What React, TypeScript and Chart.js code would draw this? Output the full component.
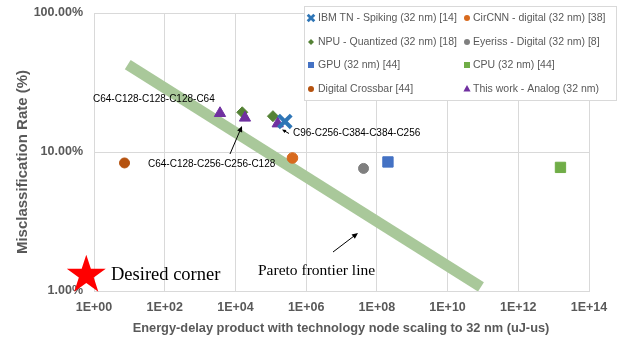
import React, { useEffect, useRef } from 'react';
import { Chart, registerables } from 'chart.js';

Chart.register(...registerables);

// ---- data ----
const xTickExponents = [0, 2, 4, 6, 8, 10, 12, 14];
const yTickValues = [1, 10, 100];

const ibmX = [2.5e5];
const ibmY = [16.6];
const circnnX = [4.1e5];
const circnnY = [9.06];
const npuX = [1.56e4, 1.15e5];
const npuY = [19.3, 18.1];
const eyerissX = [4.2e7];
const eyerissY = [7.62];
const gpuX = [2.06e8];
const gpuY = [8.48];
const cpuX = [1.56e13];
const cpuY = [7.75];
const crossbarX = [7.3];
const crossbarY = [8.34];
const thisWorkX = [3.66e3, 1.86e4, 1.57e5];
const thisWorkY = [19.0, 17.6, 16.0];
const paretoX = [9, 8.8e10];
const paretoY = [42.5, 1.07];
const desiredCornerX = 0.605;
const desiredCornerY = 1.3;

const legendLabels = [
  'IBM TN - Spiking (32 nm) [14]',
  'CirCNN - digital (32 nm) [38]',
  'NPU - Quantized (32 nm) [18]',
  'Eyeriss - Digital (32 nm) [8]',
  'GPU (32 nm) [44]',
  'CPU (32 nm) [44]',
  'Digital Crossbar [44]',
  'This work - Analog (32 nm)',
];

const C = {
  ibm: '#2E75B6',
  circnn: '#D86A1E',
  npu: '#548235',
  eyeriss: '#7F7F7F',
  gpu: '#4472C4',
  cpu: '#70AD47',
  crossbar: '#B5520F',
  thisWork: '#7030A0',
  pareto: '#A9C89A',
};

const zip = (xs: number[], ys: number[]) => xs.map((x, i) => ({ x, y: ys[i] }));

function drawMarker(ctx: CanvasRenderingContext2D, kind: string, color: string, x: number, y: number, r: number) {
  ctx.save();
  ctx.fillStyle = color;
  ctx.strokeStyle = color;
  ctx.beginPath();
  if (kind === 'circle') {
    ctx.arc(x, y, r, 0, Math.PI * 2);
    ctx.fill();
  } else if (kind === 'rect') {
    ctx.rect(x - r, y - r, 2 * r, 2 * r);
    ctx.fill();
  } else if (kind === 'diamond') {
    ctx.moveTo(x, y - r);
    ctx.lineTo(x + r, y);
    ctx.lineTo(x, y + r);
    ctx.lineTo(x - r, y);
    ctx.closePath();
    ctx.fill();
  } else if (kind === 'triangle') {
    ctx.moveTo(x, y - r);
    ctx.lineTo(x + r * 0.9, y + r * 0.6);
    ctx.lineTo(x - r * 0.9, y + r * 0.6);
    ctx.closePath();
    ctx.fill();
  } else if (kind === 'cross') {
    ctx.lineWidth = 2.8;
    ctx.moveTo(x - r, y - r);
    ctx.lineTo(x + r, y + r);
    ctx.moveTo(x + r, y - r);
    ctx.lineTo(x - r, y + r);
    ctx.stroke();
  }
  ctx.restore();
}

function drawArrow(ctx: CanvasRenderingContext2D, x1: number, y1: number, x2: number, y2: number, head = 6) {
  const ang = Math.atan2(y2 - y1, x2 - x1);
  ctx.save();
  ctx.strokeStyle = '#000';
  ctx.fillStyle = '#000';
  ctx.lineWidth = 1;
  ctx.beginPath();
  ctx.moveTo(x1, y1);
  ctx.lineTo(x2 - Math.cos(ang) * head * 0.8, y2 - Math.sin(ang) * head * 0.8);
  ctx.stroke();
  ctx.beginPath();
  ctx.moveTo(x2, y2);
  ctx.lineTo(x2 - head * Math.cos(ang) + (head / 2.2) * Math.sin(ang), y2 - head * Math.sin(ang) - (head / 2.2) * Math.cos(ang));
  ctx.lineTo(x2 - head * Math.cos(ang) - (head / 2.2) * Math.sin(ang), y2 - head * Math.sin(ang) + (head / 2.2) * Math.cos(ang));
  ctx.closePath();
  ctx.fill();
  ctx.restore();
}

const overlayPlugin = {
  id: 'overlay',
  afterDatasetsDraw(chart: any) {
    const ctx: CanvasRenderingContext2D = chart.ctx;
    const xs = chart.scales.x;
    const ys = chart.scales.y;
    ctx.save();
    // code labels
    ctx.fillStyle = '#000';
    ctx.font = '10px "Liberation Sans", Arial, sans-serif';
    ctx.textBaseline = 'middle';
    ctx.textAlign = 'left';
    ctx.fillText('C64-C128-C128-C128-C64', 93, 99);
    ctx.fillText('C64-C128-C256-C256-C128', 148, 164);
    ctx.fillText('C96-C256-C384-C384-C256', 293, 133);
    drawArrow(ctx, 230, 154, 242, 126, 6);
    drawArrow(ctx, 289, 133.5, 282, 129.5, 4);
    drawArrow(ctx, 333, 252, 358, 233, 6);
    // serif annotations
    ctx.textBaseline = 'alphabetic';
    ctx.font = '18.5px "Liberation Serif", "Times New Roman", serif';
    ctx.fillText('Desired corner', 111, 280);
    ctx.font = '15.5px "Liberation Serif", "Times New Roman", serif';
    ctx.fillText('Pareto frontier line', 258, 275);
    // star
    const sx = xs.getPixelForValue(desiredCornerX);
    const sy = ys.getPixelForValue(desiredCornerY);
    const R = 20.5;
    const r = R * 0.382;
    ctx.fillStyle = '#FF0000';
    ctx.beginPath();
    for (let i = 0; i < 10; i++) {
      const rad = (i % 2 === 0 ? R : r);
      const a = -Math.PI / 2 + (i * Math.PI) / 5;
      const px = sx + rad * Math.cos(a);
      const py = sy + rad * Math.sin(a);
      if (i === 0) ctx.moveTo(px, py); else ctx.lineTo(px, py);
    }
    ctx.closePath();
    ctx.fill();
    ctx.restore();
  },
  afterDraw(chart: any) {
    const ctx: CanvasRenderingContext2D = chart.ctx;
    const area = chart.chartArea;
    ctx.save();
    // axis titles
    ctx.fillStyle = '#595959';
    ctx.textAlign = 'center';
    ctx.textBaseline = 'middle';
    ctx.font = 'bold 12.8px "Liberation Sans", Arial, sans-serif';
    ctx.fillText('Energy-delay product with technology node scaling to 32 nm (uJ-us)', (area.left + area.right) / 2 - 0.5, 328);
    ctx.save();
    ctx.translate(23, 162);
    ctx.rotate(-Math.PI / 2);
    ctx.font = 'bold 15px "Liberation Sans", Arial, sans-serif';
    ctx.fillText('Misclassification Rate (%)', 0, 0);
    ctx.restore();
    // legend
    ctx.fillStyle = '#FFFFFF';
    ctx.strokeStyle = '#D9D9D9';
    ctx.lineWidth = 1;
    ctx.fillRect(304.5, 6.5, 312, 94);
    ctx.strokeRect(304.5, 6.5, 312, 94);
    const kinds = [
      ['cross', C.ibm], ['circle', C.circnn],
      ['diamond', C.npu], ['circle', C.eyeriss],
      ['rect', C.gpu], ['rect', C.cpu],
      ['circle', C.crossbar], ['triangle', C.thisWork],
    ];
    const rowY = [18, 42, 65, 89];
    const markerX = [311, 467];
    const textX = [318, 473];
    ctx.font = '10.5px "Liberation Sans", Arial, sans-serif';
    ctx.textAlign = 'left';
    ctx.textBaseline = 'middle';
    legendLabels.forEach((label, i) => {
      const col = i % 2;
      const row = Math.floor(i / 2);
      const [kind, color] = kinds[i];
      const size = kind === 'cross' ? 3.3 : kind === 'rect' ? 3 : kind === 'triangle' ? 4 : 3;
      drawMarker(ctx, kind, color, markerX[col], rowY[row], size);
      ctx.fillStyle = '#595959';
      ctx.fillText(label, textX[col], rowY[row] + 0.5);
    });
    ctx.restore();
  },
};

export default function App() {
  const ref = useRef<HTMLCanvasElement | null>(null);
  useEffect(() => {
    if (!ref.current) return;
    const tickFont = { family: '"Liberation Sans", Arial, sans-serif', size: 12.5, weight: 'bold' as const };
    const chart = new Chart(ref.current, {
      type: 'scatter',
      data: {
        datasets: [
          { label: legendLabels[0], data: zip(ibmX, ibmY), pointStyle: 'crossRot', pointRadius: 9, borderColor: C.ibm, backgroundColor: C.ibm, pointBorderWidth: 4, order: 1 },
          { label: legendLabels[1], data: zip(circnnX, circnnY), pointStyle: 'circle', pointRadius: 5.3, backgroundColor: C.circnn, borderColor: C.circnn, order: 1 },
          { label: legendLabels[2], data: zip(npuX, npuY), pointStyle: 'rectRot', pointRadius: 5.5, backgroundColor: C.npu, borderColor: C.npu, order: 2 },
          { label: legendLabels[3], data: zip(eyerissX, eyerissY), pointStyle: 'circle', pointRadius: 5, backgroundColor: C.eyeriss, borderColor: C.eyeriss, order: 1 },
          { label: legendLabels[4], data: zip(gpuX, gpuY), pointStyle: 'rect', pointRadius: 7.3, backgroundColor: C.gpu, borderColor: C.gpu, order: 1 },
          { label: legendLabels[5], data: zip(cpuX, cpuY), pointStyle: 'rect', pointRadius: 7.3, backgroundColor: C.cpu, borderColor: C.cpu, order: 1 },
          { label: legendLabels[6], data: zip(crossbarX, crossbarY), pointStyle: 'circle', pointRadius: 5, backgroundColor: C.crossbar, borderColor: C.crossbar, order: 1 },
          { label: legendLabels[7], data: zip(thisWorkX, thisWorkY), pointStyle: 'triangle', pointRadius: 6.5, backgroundColor: C.thisWork, borderColor: C.thisWork, order: 1 },
          { label: 'Pareto frontier line', data: zip(paretoX, paretoY), showLine: true, pointRadius: 0, borderColor: C.pareto, backgroundColor: C.pareto, borderWidth: 11, borderCapStyle: 'butt', order: 10 } as any,
        ],
      },
      options: {
        responsive: false,
        animation: false,
        devicePixelRatio: 1,
        layout: { padding: { left: 0, right: 34, top: 11, bottom: 0 } },
        plugins: { legend: { display: false }, tooltip: { enabled: false } },
        scales: {
          x: {
            type: 'logarithmic',
            min: 1,
            max: 1e14,
            afterFit: (s: any) => { s.height = 59; s.paddingLeft = 0; s.paddingRight = 0; },
            afterBuildTicks: (s: any) => { s.ticks = xTickExponents.map((e) => ({ value: Math.pow(10, e) })); },
            ticks: {
              autoSkip: false,
              maxRotation: 0,
              padding: 9,
              color: '#595959',
              font: tickFont,
              callback: (v: any) => '1E+' + String(Math.round(Math.log10(Number(v)))).padStart(2, '0'),
            },
            grid: { color: '#D9D9D9', drawTicks: false, lineWidth: 1 },
            border: { color: '#D9D9D9' },
          },
          y: {
            type: 'logarithmic',
            min: 1,
            max: 100,
            afterFit: (s: any) => { s.width = 94; s.paddingTop = 0; s.paddingBottom = 0; },
            afterBuildTicks: (s: any) => { s.ticks = yTickValues.map((v) => ({ value: v })); },
            ticks: {
              autoSkip: false,
              padding: 11,
              color: '#595959',
              font: tickFont,
              callback: (v: any) => Number(v).toFixed(2) + '%',
            },
            grid: { color: '#D9D9D9', drawTicks: false, lineWidth: 1 },
            border: { color: '#D9D9D9' },
          },
        },
      } as any,
      plugins: [overlayPlugin],
    });
    return () => chart.destroy();
  }, []);
  return (
    <div style={{ position: 'absolute', left: 0, top: 0, width: 623, height: 350, background: '#fff' }}>
      <canvas ref={ref} width={623} height={350} style={{ width: 623, height: 350, display: 'block' }} />
    </div>
  );
}
